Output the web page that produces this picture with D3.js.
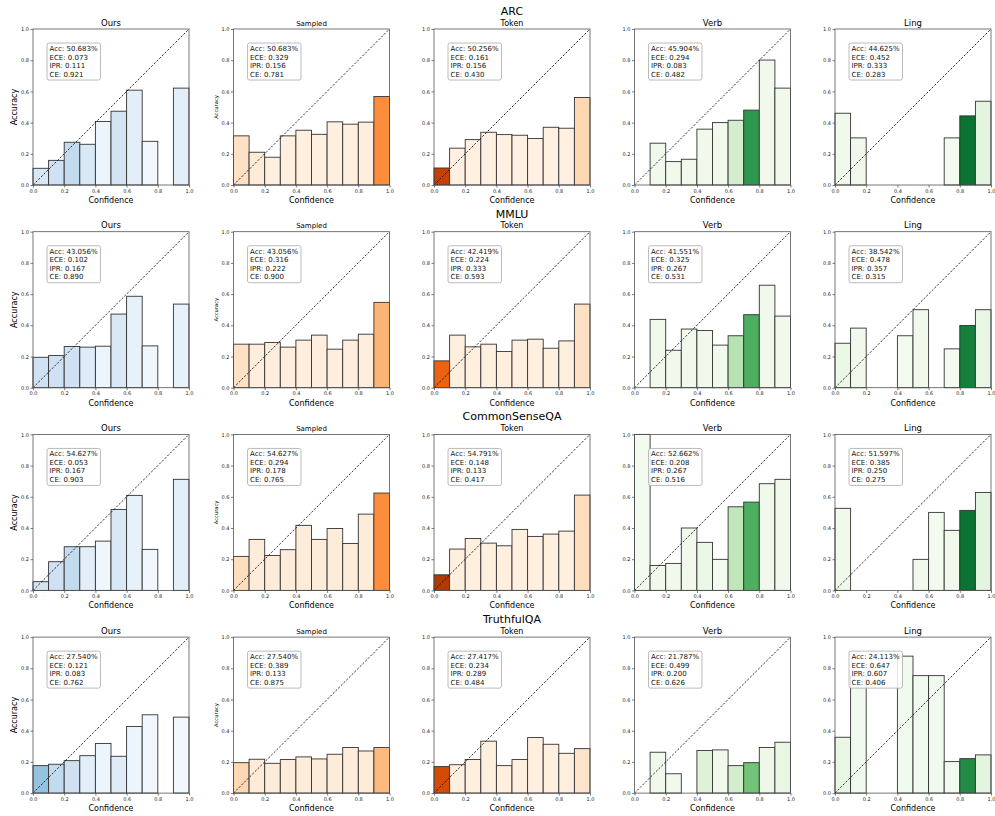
<!DOCTYPE html>
<html>
<head>
<meta charset="utf-8">
<script src="https://cdn.jsdelivr.net/npm/d3@7"></script>
<style>
  body { margin: 0; background: #fff; }
  svg { font-family: "DejaVu Sans", sans-serif; }
</style>
</head>
<body>
<div id="vizDiv"></div>
<script>
var width = 995;
var height = 816;

// data
var datasets = ["ARC", "MMLU", "CommonSenseQA", "TruthfulQA"];
var methods = ["Ours", "Sampled", "Token", "Verb", "Ling"];
var binEdges = [0, 0.1, 0.2, 0.3, 0.4, 0.5, 0.6, 0.7, 0.8, 0.9, 1.0];
var tickValues = [0, 0.2, 0.4, 0.6, 0.8, 1.0];

// accuracy per confidence bin (null = empty bin), one row per method
var arcAcc = [
  [0.107, 0.158, 0.274, 0.261, 0.407, 0.473, 0.608, 0.280, null, 0.621],
  [0.315, 0.210, 0.178, 0.315, 0.351, 0.325, 0.405, 0.390, 0.403, 0.567],
  [0.109, 0.236, 0.291, 0.338, 0.323, 0.319, 0.298, 0.370, 0.364, 0.561],
  [null, 0.268, 0.150, 0.165, 0.358, 0.400, 0.415, 0.480, 0.801, 0.621],
  [0.460, 0.302, null, null, null, null, null, 0.302, 0.443, 0.537]
];
var mmluAcc = [
  [0.195, 0.206, 0.264, 0.260, 0.266, 0.472, 0.586, 0.268, null, 0.536],
  [0.279, 0.279, 0.290, 0.260, 0.305, 0.337, 0.247, 0.305, 0.343, 0.547],
  [0.172, 0.337, 0.262, 0.279, 0.232, 0.305, 0.311, 0.253, 0.300, 0.536],
  [null, 0.438, 0.240, 0.376, 0.367, 0.273, 0.333, 0.468, 0.657, 0.459],
  [0.285, 0.382, null, null, 0.333, 0.500, null, 0.249, 0.399, 0.500]
];
var csqaAcc = [
  [0.056, 0.184, 0.280, 0.280, 0.316, 0.519, 0.609, 0.263, null, 0.712],
  [0.218, 0.327, 0.224, 0.261, 0.417, 0.327, 0.397, 0.301, 0.489, 0.624],
  [0.100, 0.265, 0.333, 0.303, 0.286, 0.391, 0.346, 0.361, 0.380, 0.611],
  [1.000, 0.160, 0.173, 0.400, 0.308, 0.199, 0.536, 0.566, 0.684, 0.712],
  [0.526, null, null, null, null, 0.199, 0.500, 0.385, 0.513, 0.628]
];
var tqaAcc = [
  [0.176, 0.185, 0.208, 0.240, 0.318, 0.236, 0.427, 0.502, null, 0.487],
  [0.195, 0.217, 0.191, 0.215, 0.232, 0.219, 0.249, 0.292, 0.270, 0.292],
  [0.170, 0.182, 0.215, 0.333, 0.176, 0.215, 0.356, 0.313, 0.255, 0.285],
  [null, 0.262, 0.124, null, 0.273, 0.277, 0.176, 0.195, 0.292, 0.326],
  [0.358, 0.750, null, null, 0.878, 0.753, 0.753, 0.202, 0.221, 0.245]
];

// share of samples per bin, used for the fill shade
var arcShade = [
  [0.15, 0.20, 0.25, 0.15, 0.05, 0.18, 0.10, 0.03, 0, 0.10],
  [0.15, 0.08, 0.05, 0.05, 0.05, 0.05, 0.05, 0.05, 0.06, 0.50],
  [0.80, 0.04, 0.04, 0.04, 0.04, 0.04, 0.04, 0.04, 0.04, 0.20],
  [0, 0.05, 0.05, 0.05, 0.05, 0.05, 0.20, 0.70, 0.05, 0.05],
  [0.05, 0.05, 0, 0, 0, 0, 0, 0.03, 0.85, 0.12]
];
var mmluShade = [
  [0.20, 0.20, 0.20, 0.12, 0.05, 0.15, 0.08, 0.04, 0, 0.08],
  [0.15, 0.06, 0.06, 0.06, 0.06, 0.06, 0.06, 0.06, 0.06, 0.35],
  [0.65, 0.05, 0.05, 0.05, 0.05, 0.05, 0.05, 0.05, 0.05, 0.15],
  [0, 0.05, 0.05, 0.05, 0.05, 0.05, 0.30, 0.60, 0.05, 0.05],
  [0.08, 0.05, 0, 0, 0.03, 0.05, 0, 0.03, 0.80, 0.10]
];
var csqaShade = [
  [0.18, 0.20, 0.25, 0.10, 0.04, 0.15, 0.08, 0.03, 0, 0.10],
  [0.17, 0.07, 0.07, 0.07, 0.07, 0.07, 0.07, 0.07, 0.07, 0.50],
  [0.85, 0.05, 0.05, 0.05, 0.05, 0.05, 0.05, 0.05, 0.05, 0.17],
  [0.03, 0.05, 0.05, 0.05, 0.08, 0.03, 0.27, 0.60, 0.05, 0.05],
  [0.05, 0, 0, 0, 0, 0.05, 0.03, 0.05, 0.85, 0.12]
];
var tqaShade = [
  [0.40, 0.25, 0.20, 0.10, 0.05, 0.12, 0.05, 0.03, 0, 0.03],
  [0.20, 0.08, 0.07, 0.07, 0.07, 0.07, 0.07, 0.07, 0.08, 0.33],
  [0.75, 0.05, 0.05, 0.05, 0.05, 0.05, 0.05, 0.05, 0.05, 0.13],
  [0, 0.05, 0.05, 0, 0.15, 0.05, 0.20, 0.50, 0.07, 0.10],
  [0.10, 0.04, 0, 0, 0.04, 0.04, 0.04, 0.04, 0.75, 0.12]
];

// Acc, ECE, IPR, CE
var arcStats = [
  ["50.683%", "0.073", "0.111", "0.921"],
  ["50.683%", "0.329", "0.156", "0.781"],
  ["50.256%", "0.161", "0.156", "0.430"],
  ["45.904%", "0.294", "0.083", "0.482"],
  ["44.625%", "0.452", "0.333", "0.283"]
];
var mmluStats = [
  ["43.056%", "0.102", "0.167", "0.890"],
  ["43.056%", "0.316", "0.222", "0.900"],
  ["42.419%", "0.224", "0.333", "0.593"],
  ["41.551%", "0.325", "0.267", "0.531"],
  ["38.542%", "0.478", "0.357", "0.315"]
];
var csqaStats = [
  ["54.627%", "0.053", "0.167", "0.903"],
  ["54.627%", "0.294", "0.178", "0.765"],
  ["54.791%", "0.148", "0.133", "0.417"],
  ["52.662%", "0.208", "0.267", "0.516"],
  ["51.597%", "0.385", "0.250", "0.275"]
];
var tqaStats = [
  ["27.540%", "0.121", "0.083", "0.762"],
  ["27.540%", "0.389", "0.133", "0.875"],
  ["27.417%", "0.234", "0.289", "0.484"],
  ["21.787%", "0.499", "0.200", "0.626"],
  ["24.113%", "0.647", "0.607", "0.406"]
];

var allAcc = [arcAcc, mmluAcc, csqaAcc, tqaAcc];
var allShade = [arcShade, mmluShade, csqaShade, tqaShade];
var allStats = [arcStats, mmluStats, csqaStats, tqaStats];
var statNames = ["Acc", "ECE", "IPR", "CE"];

var colorMaps = [d3.interpolateBlues, d3.interpolateOranges, d3.interpolateOranges, d3.interpolateGreens, d3.interpolateGreens];
var titleSize = [8.5, 7, 8, 8.5, 8.5];

// layout
panelSize = 156
colLeft0 = 33
colStep = 200.5
rowTop0 = 29
rowStep = 202.7

var svg = d3.select("#vizDiv")
  .append("svg")
  .attr("width", width)
  .attr("height", height)

var x = d3.scaleLinear().domain([0, 1]).range([0, panelSize]);
var y = d3.scaleLinear().domain([0, 1]).range([panelSize, 0]);

function drawPanel(r, c) {
  var acc = allAcc[r][c];
  var shade = allShade[r][c];
  var stats = allStats[r][c];
  var left = colLeft0 + c * colStep;
  var top = rowTop0 + r * rowStep;

  var g = svg.append("g").attr("transform", "translate(" + left + "," + top + ")");

  var bins = binEdges.slice(0, -1).map(function (b, i) {
    return { x0: b, x1: binEdges[i + 1], acc: acc[i], shade: shade[i] };
  }).filter(function (d) { return d.acc != null; });

  g.selectAll("rect.bar")
    .data(bins)
    .enter().append("rect")
    .attr("class", "bar")
    .attr("x", function (d) { return x(d.x0); })
    .attr("y", function (d) { return y(d.acc); })
    .attr("width", function (d) { return x(d.x1) - x(d.x0); })
    .attr("height", function (d) { return y(0) - y(d.acc); })
    .attr("fill", function (d) { return colorMaps[c](d.shade); })
    .attr("stroke", "#333")
    .attr("stroke-width", 0.9);

  // perfect calibration line
  g.append("path")
    .attr("d", d3.line().x(function (d) { return x(d); }).y(function (d) { return y(d); })([0, 1]))
    .attr("stroke", "black")
    .attr("stroke-width", 0.8)
    .attr("stroke-dasharray", "2.2,1.6")
    .attr("fill", "none");

  // axes
  var xAxis = g.append("g")
    .attr("transform", "translate(0," + panelSize + ")")
    .call(d3.axisBottom(x).tickValues(tickValues).tickSize(2.5).tickPadding(1.5).tickFormat(d3.format(".1f")));
  var yAxis = g.append("g")
    .call(d3.axisLeft(y).tickValues(tickValues).tickSize(2.5).tickPadding(1.5).tickFormat(d3.format(".1f")));
  [xAxis, yAxis].forEach(function (a) {
    a.select(".domain").remove();
    a.selectAll("line").attr("stroke", "#444").attr("stroke-width", 0.7);
    a.selectAll("text").attr("font-size", 5).attr("fill", "#222").attr("font-family", "DejaVu Sans");
  });

  g.append("rect")
    .attr("width", panelSize)
    .attr("height", panelSize)
    .attr("fill", "none")
    .attr("stroke", "#555")
    .attr("stroke-width", 0.8);

  // stats box
  var box = g.append("g").attr("transform", "translate(" + (panelSize * 0.09) + "," + (panelSize * 0.09) + ")");
  var boxRect = box.append("rect");
  var txt = box.append("text")
    .attr("font-size", 7)
    .attr("fill", "#111");
  stats.forEach(function (s, i) {
    txt.append("tspan")
      .attr("x", 2.5)
      .attr("y", 8 + i * 8.5)
      .text(statNames[i] + ": " + s);
  });
  var bb = txt.node().getBBox();
  boxRect
    .attr("x", 0)
    .attr("y", 0)
    .attr("width", bb.width + 5)
    .attr("height", 4 * 8.5 + 3)
    .attr("rx", 2)
    .attr("fill", "white")
    .attr("fill-opacity", 0.85)
    .attr("stroke", "#aaa")
    .attr("stroke-width", 0.8);

  // titles and labels
  g.append("text")
    .attr("x", panelSize / 2)
    .attr("y", -3.5)
    .attr("text-anchor", "middle")
    .attr("font-size", titleSize[c])
    .text(methods[c]);

  g.append("text")
    .attr("x", panelSize / 2)
    .attr("y", panelSize + 18)
    .attr("text-anchor", "middle")
    .attr("font-size", 8)
    .text("Confidence");

  if (c < 2) {
    g.append("text")
      .attr("transform", "translate(" + (c == 0 ? -16 : -15.5) + "," + (panelSize / 2) + ") rotate(-90)")
      .attr("text-anchor", "middle")
      .attr("font-size", c == 0 ? 8 : 5.2)
      .text("Accuracy");
  }
}

for (var r = 0; r < datasets.length; r++) {
  svg.append("text")
    .attr("x", colLeft0 + 2 * colStep + panelSize / 2)
    .attr("y", rowTop0 + r * rowStep - 14)
    .attr("text-anchor", "middle")
    .attr("font-size", 11)
    .text(datasets[r]);
  for (var c = 0; c < methods.length; c++) {
    drawPanel(r, c);
  }
}
</script>
</body>
</html>
